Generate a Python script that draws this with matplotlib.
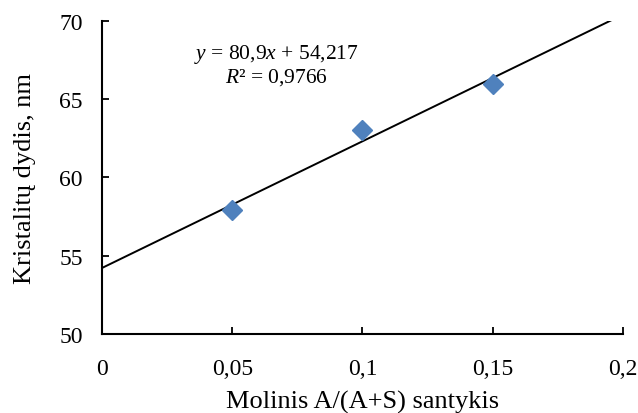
import matplotlib
matplotlib.use("Agg")
import matplotlib.pyplot as plt
import numpy as np

# data
ratio = [0.05, 0.10, 0.15]
size_nm = [57.9, 63.0, 66.0]
slope = 80.9
intercept = 54.217
r2 = "0,9766"
xticks = [0, 0.05, 0.1, 0.15, 0.2]
xtick_labels = ["0", "0,05", "0,1", "0,15", "0,2"]
yticks = [50, 55, 60, 65, 70]

plt.rcParams['font.family'] = ['Liberation Serif', 'DejaVu Serif']
plt.rcParams['mathtext.fontset'] = 'custom'
plt.rcParams['mathtext.rm'] = 'Liberation Serif'
plt.rcParams['mathtext.it'] = 'Liberation Serif:italic'

fig = plt.figure(figsize=(6.38, 4.14), dpi=100)
ax = fig.add_axes([0.16, 0.191, 0.816, 0.756])

# trendline over full x range
xs = np.array([0, 0.2])
ax.plot(xs, slope * xs + intercept, color='black', linewidth=1.4, zorder=2)
ax.plot(ratio, size_nm, linestyle='none', marker='D', markersize=10,
        color='#4F81BD', zorder=3)

ax.set_xlim(0, 0.2)
ax.set_ylim(50, 70)
ax.set_xticks(xticks)
ax.set_xticklabels(xtick_labels)
ax.set_yticks(yticks)

for s in ['top', 'right']:
    ax.spines[s].set_visible(False)
for s in ['left', 'bottom']:
    ax.spines[s].set_linewidth(1.5)

ax.tick_params(direction='in', length=5, width=1.3, labelsize=17)
ax.tick_params(axis='x', pad=17)
ax.tick_params(axis='y', pad=14)

ax.set_xlabel("Molinis A/(A+S) santykis", fontsize=19, labelpad=8)
ax.set_ylabel("Kristalitų dydis, nm", fontsize=19, labelpad=17)

ax.text(0.067, 67.9, r"$\it{y}$ = 80,9$\it{x}$ + 54,217", fontsize=15.5,
        ha='center', va='center')
ax.text(0.067, 66.45, r"$\it{R}$² = " + r2, fontsize=15.5,
        ha='center', va='center')

fig.savefig("out.png", dpi=100)
